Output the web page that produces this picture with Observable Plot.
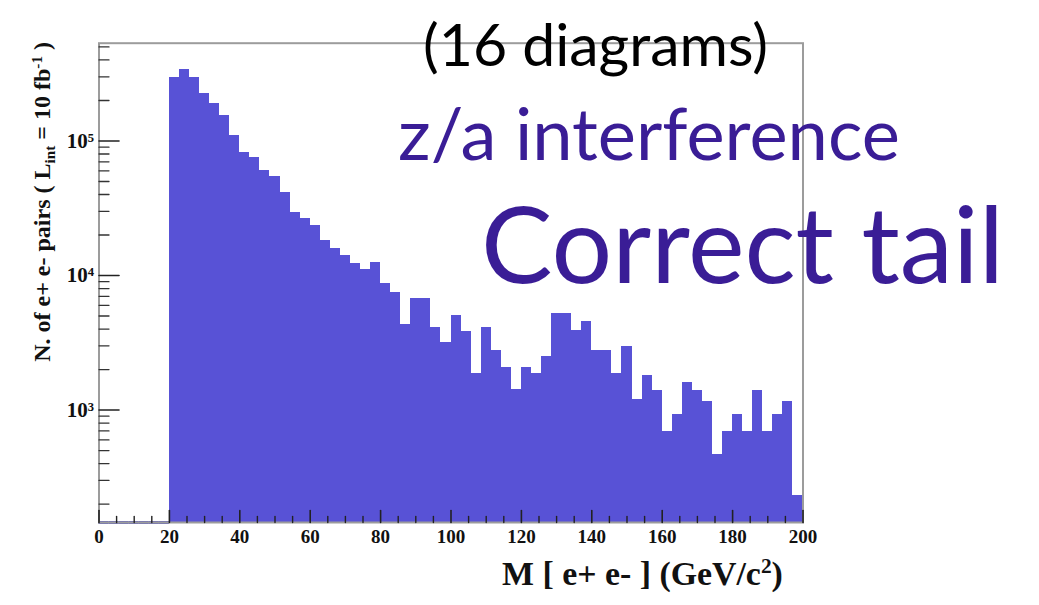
<!DOCTYPE html>
<html>
<head>
<meta charset="utf-8">
<script src="https://cdn.jsdelivr.net/npm/d3@7"></script>
<script src="https://cdn.jsdelivr.net/npm/@observablehq/plot@0.6"></script>
<style>
  html, body { margin: 0; padding: 0; background: #fff; }
  #chart { width: 1039px; height: 605px; overflow: hidden; }
</style>
</head>
<body>
<div id="chart"></div>
<script>
// ---- data ----
const binCount = 70;              // histogram bins over 0..200 GeV
const massRange = [0, 200];
// events per bin (first 7 bins, 0-20 GeV, are empty)
const counts = [
  0, 0, 0, 0, 0, 0, 0,
  295000, 338000, 295000, 226000, 189000, 155000, 110000, 82600, 75000, 60400,
  54500, 41600, 29600, 26400, 23500, 18200, 15800, 14100, 12200, 11000,
  12600, 8670, 7510, 4320, 6710, 6710, 4130, 3190, 5040, 3850,
  1880, 4130, 2770, 2080, 1410, 2060, 1860, 2500, 5250, 5250,
  3900, 4570, 2770, 2770, 1860, 2970, 1190, 1810, 1400, 695,
  926, 1610, 1400, 1160, 467, 695, 926, 695, 1400, 695,
  926, 1160, 231
];
const xMajorTicks = [0, 20, 40, 60, 80, 100, 120, 140, 160, 180, 200];
const yMajorTicks = [1000, 10000, 100000];
const yTickLabels = ["10³", "10⁴", "10⁵"];
const yDomain = [146, 533000];
const xLabelMain = "M [ e+ e- ] (GeV/c";
const xLabelSup = "2";
const xLabelEnd = ")";
const titleLines = ["(16 diagrams)", "z/a interference", "Correct tail"];

// ---- build table ----
const binWidth = (massRange[1] - massRange[0]) / binCount;
const bins = counts.map((c, i) => ({x1: massRange[0] + i * binWidth, x2: massRange[0] + (i + 1) * binWidth, count: c}));
const filled = bins.filter(d => d.count > 0);
const empty = bins.filter(d => d.count === 0);

const xMinorTicks = d3.range(massRange[0], massRange[1] + 0.001, 5).filter(v => !xMajorTicks.includes(v));
const yMinorTicks = d3.scaleLog().domain(yDomain).ticks().filter(v => !yMajorTicks.includes(v));

const tickShape = {draw(context, l) { context.moveTo(0, 0); context.lineTo(0, -l); }};
const serif = "'Liberation Serif', 'Times New Roman', serif";
const FILL = "#5852d6";
const PURPLE = "#3a1d96";

const plot = Plot.plot({
  width: 1039,
  height: 605,
  marginLeft: 98.5,
  marginRight: 236.5,
  marginTop: 42.7,
  marginBottom: 83,
  x: {domain: massRange, axis: null},
  y: {type: "log", domain: yDomain, axis: null},
  style: {background: "#fff", overflow: "visible"},
  marks: [
    Plot.rectY(filled, {x1: "x1", x2: "x2", y1: yDomain[0], y2: "count", fill: FILL, inset: 0, shapeRendering: "crispEdges"}),
    Plot.ruleY(empty, {x1: "x1", x2: "x2", y: yDomain[0], stroke: "#2b2aa8", strokeWidth: 2.5}),
    Plot.frame({stroke: "#9c9c9c", strokeWidth: 2}),
    // x ticks (inward)
    Plot.vector(xMajorTicks, {x: d => d, y: yDomain[0], length: 12, anchor: "start", shape: tickShape, stroke: "#222", strokeWidth: 1.6}),
    Plot.vector(xMinorTicks, {x: d => d, y: yDomain[0], length: 6, anchor: "start", shape: tickShape, stroke: "#222", strokeWidth: 1.4}),
    // y ticks (inward)
    Plot.vector(yMajorTicks, {x: massRange[0], y: d => d, length: 20, rotate: 90, anchor: "start", shape: tickShape, stroke: "#222", strokeWidth: 1.6}),
    Plot.vector(yMinorTicks, {x: massRange[0], y: d => d, length: 10, rotate: 90, anchor: "start", shape: tickShape, stroke: "#333", strokeWidth: 1.3}),
    // tick labels
    Plot.text(xMajorTicks, {x: d => d, y: yDomain[0], dy: 14, text: d => String(d), fontSize: 19, fontWeight: "bold", fontFamily: serif, fill: "#111", lineAnchor: "middle"}),
    Plot.text(yMajorTicks, {x: massRange[0], y: d => d, dx: -5, text: (d, i) => yTickLabels[i], textAnchor: "end", fontSize: 21, fontWeight: "bold", fontFamily: serif, fill: "#111"})
  ]
});

document.getElementById("chart").appendChild(plot);
const svg = d3.select(plot);

// x axis label with superscript, fitted to the reference width
const xl = svg.append("text")
  .attr("x", 502).attr("y", 585)
  .attr("text-anchor", "start")
  .attr("font-family", serif)
  .attr("font-weight", "bold")
  .attr("font-size", 30)
  .attr("fill", "#111");
xl.append("tspan").text(xLabelMain);
const xsup = xl.append("tspan").attr("font-size", 19).attr("dy", -12).text(xLabelSup);
xl.append("tspan").attr("dy", 12).text(xLabelEnd);
{
  const w = xl.node().getComputedTextLength();
  const k = 281 / w;
  xl.attr("font-size", 30 * k);
  xsup.attr("font-size", 19 * k);
}

// y axis label with sub/superscripts
const yl = svg.append("text")
  .attr("transform", "translate(50,42) rotate(-90)")
  .attr("text-anchor", "end")
  .attr("font-family", serif)
  .attr("font-weight", "bold")
  .attr("font-size", 19)
  .attr("fill", "#111");
yl.append("tspan").text("N. of e+ e- pairs ( L");
yl.append("tspan").attr("font-size", 12).attr("dy", 5).text("int");
yl.append("tspan").attr("dy", -5).text(" = 10 fb");
yl.append("tspan").attr("font-size", 12).attr("dy", -8).text("-1");
yl.append("tspan").attr("dy", 8).text(" )");
{
  const w = yl.node().getComputedTextLength();
  yl.attr("font-size", 19 * 320 / w);
  yl.selectAll("tspan").filter(function() { return this.getAttribute("font-size"); })
    .attr("font-size", 12 * 320 / w);
}

// overlay slide text, fitted to the widths seen in the reference
const overlays = [
  {text: titleLines[0], left: 423, right: 768, baseline: 66, color: "#000"},
  {text: titleLines[1], left: 398, right: 900, baseline: 160, color: PURPLE},
  {text: titleLines[2], left: 481, right: 1004, baseline: 283, color: PURPLE}
];
for (const o of overlays) {
  const t = svg.append("text")
    .attr("x", o.left)
    .attr("y", o.baseline)
    .attr("text-anchor", "start")
    .attr("font-family", "Lato, 'Open Sans', sans-serif")
    .attr("font-size", 60)
    .attr("fill", o.color)
    .text(o.text);
  const w = t.node().getComputedTextLength();
  t.attr("font-size", 60 * (o.right - o.left) / w);
}
</script>
</body>
</html>
